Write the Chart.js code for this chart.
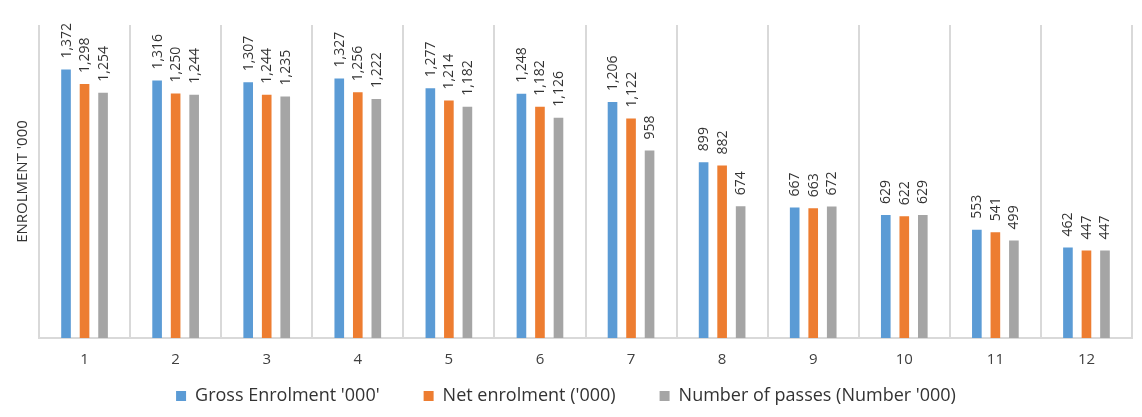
<!DOCTYPE html>
<html>
<head>
<meta charset="utf-8">
<script src="https://cdn.jsdelivr.net/npm/chart.js@4.4.0/dist/chart.umd.min.js"></script>
<style>
html,body{margin:0;padding:0;background:#ffffff;}
#wrap{width:1142px;height:417px;}
</style>
</head>
<body>
<div id="wrap"><canvas id="c" width="1142" height="417"></canvas></div>
<script>
const categories = ['1','2','3','4','5','6','7','8','9','10','11','12'];
const grossEnrolment = [1372,1316,1307,1327,1277,1248,1206,899,667,629,553,462];
const netEnrolment = [1298,1250,1244,1256,1214,1182,1122,882,663,622,541,447];
const numberOfPasses = [1254,1244,1235,1222,1182,1126,958,674,672,629,499,447];
const seriesNames = ["Gross Enrolment '000'", "Net enrolment ('000)", "Number of passes (Number '000)"];
const seriesColors = ['#5B9BD5', '#ED7D31', '#A5A5A5'];
const yAxisTitle = "ENROLMENT '000";
const yMin = 0;
const yMax = 1600;

const barLabels = {
  id: 'barLabels',
  afterDatasetsDraw(chart) {
    const ctx = chart.ctx;
    ctx.save();
    ctx.font = '14px "Open Sans"';
    ctx.fillStyle = '#333333';
    ctx.textAlign = 'left';
    ctx.textBaseline = 'middle';
    chart.data.datasets.forEach((ds, i) => {
      const meta = chart.getDatasetMeta(i);
      meta.data.forEach((bar, j) => {
        const v = ds.data[j];
        ctx.save();
        ctx.translate(bar.x + 0.5, bar.y - 11);
        ctx.rotate(-Math.PI / 2);
        ctx.fillText(v.toLocaleString('en-US'), 0, 0);
        ctx.restore();
      });
    });
    ctx.restore();
  }
};

const seriesData = [grossEnrolment, netEnrolment, numberOfPasses];

new Chart(document.getElementById('c'), {
  type: 'bar',
  data: {
    labels: categories,
    datasets: seriesData.map((d, i) => ({
      label: seriesNames[i],
      data: d,
      backgroundColor: seriesColors[i],
      borderWidth: 0,
      categoryPercentage: 0.61,
      barPercentage: 0.52
    }))
  },
  options: {
    responsive: false,
    animation: false,
    layout: { padding: { top: 25, right: 10, left: 0, bottom: 2 } },
    plugins: {
      legend: {
        position: 'bottom',
        labels: {
          boxWidth: 10,
          boxHeight: 10,
          padding: 44,
          color: '#333333',
          font: { family: '"Open Sans"', size: 18 }
        }
      },
      tooltip: { enabled: false }
    },
    scales: {
      x: {
        grid: { offset: true, color: '#d9d9d9', lineWidth: 2, drawTicks: false },
        border: { color: '#d9d9d9', width: 2 },
        ticks: { color: '#404040', mirror: true, padding: -31, font: { family: '"Open Sans"', size: 15 } },
        afterFit(s) { s.height = 5; }
      },
      y: {
        min: yMin,
        max: yMax,
        ticks: { display: false },
        grid: { display: false },
        border: { display: false },
        title: {
          display: true,
          text: yAxisTitle,
          color: '#333333',
          font: { family: '"Open Sans"', size: 15 },
          padding: { top: 14, bottom: 0 }
        },
        afterFit(s) { s.width = 39; }
      }
    }
  },
  plugins: [barLabels]
});
</script>
</body>
</html>
